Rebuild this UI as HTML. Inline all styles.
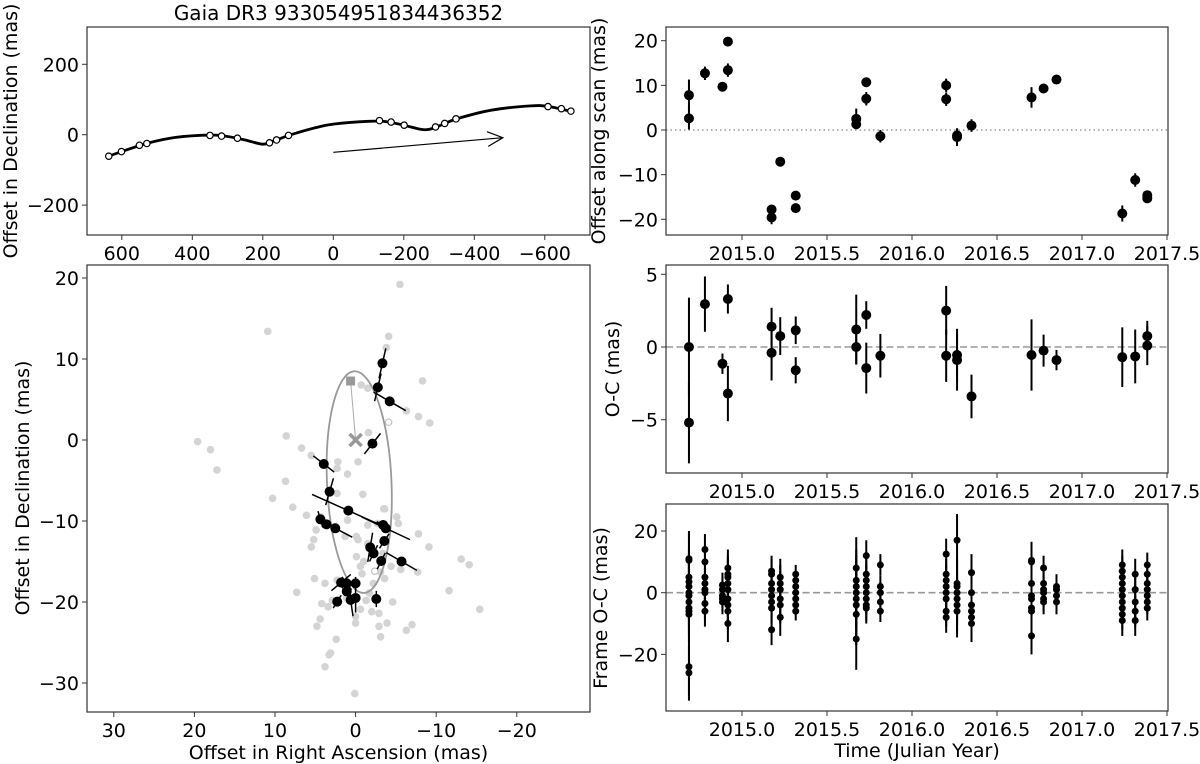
<!DOCTYPE html>
<html><head><meta charset="utf-8"><style>
html,body{margin:0;padding:0;background:#fff;}
svg{display:block;font-family:"DejaVu Sans","Liberation Sans",sans-serif;}
</style></head><body>
<svg id="fig" width="1200" height="764" viewBox="0 0 1200 764" xmlns="http://www.w3.org/2000/svg"></svg>
<script>
// ---------- DATA ----------
// Top-left sky path
const pathObsRA = [637,601,550,529,350,317,272,181,161,127,-131,-164,-201,-290,-316,-348,-609,-647,-674];
const pathObsDec = [-61,-48,-30,-25,-2,-4,-10,-23,-15,-2,40,36,27,22,32,45,80,74,67];
const pathCurveRA = [640,600,530,450,350,300,250,200,170,120,50,0,-100,-150,-200,-260,-300,-350,-450,-560,-610,-680];
const pathCurveDec = [-62,-48,-25,-8,-1,-5,-15,-27,-18,0,20,30,38,37,27,14,25,45,70,82,80,65];
const arrowStart = [0,-50];
const arrowEnd = [-481,-8.5];
const tlXTicks = [600,400,200,0,-200,-400,-600];
const tlYTicks = [200,0,-200];

// Bottom-left orbit panel
const greyRA = [-5.5,10.9,-4.1,-3.8,-8.3,-0.7,-1.5,-6.3,-7.8,-9.2,8.6,-1.6,19.6,18.0,17.2,6.7,5.5,-0.3,2.2,2.3,1.0,8.7,10.3,-0.9,7.8,6.1,4.3,-3.5,-5.1,4.9,5.2,5.5,-0.1,-0.3,-1.5,-7.8,-9.1,-13.1,-14.1,-7.7,5.1,3.8,7.3,-11.6,-15.4,-2.2,-4.6,2.9,4.2,3.4,4.4,4.8,0,0,-0.6,-2.0,-2.9,-3.9,-6.3,-7.0,2.4,3.1,3.3,3.8,0.1,-2.9,-3.1,-1.7,-0.1,-0.6,1.3,2.7,-1.5,-3.4,-5.3,-4.4,-5.6,1.1,-1.3,-3.1,-1.0,-2.0,-2.7,-3.6,2.3,1.0,-0.8,2.3,-3.6];
const greyDec = [19.2,13.4,12.8,11.4,7.3,6.8,6.4,3.6,2.9,2.1,0.5,0.9,-0.2,-1.2,-3.7,-1.0,-1.9,-2.7,-2.7,-3.5,-4.2,-5.1,-7.2,-6.7,-8.3,-9.3,-9.5,-8.5,-9.5,-11.1,-12.3,-13.2,-11.9,-12.3,-10.5,-11.6,-13.2,-14.7,-15.4,-16.3,-17.1,-17.7,-18.8,-18.6,-20.9,-17.7,-20.0,-19.8,-20.2,-20.6,-22.1,-23.0,-21.8,-22.6,-20.9,-21.2,-21.4,-22.6,-23.5,-22.8,-24.6,-26.3,-26.5,-28.0,-31.3,-23.0,-24.3,-18.9,-14.4,-15.6,-11.9,-10.7,-12.8,-14.0,-10.3,-15.6,-16.0,-19.5,-19.8,-16.3,-15.0,-13.6,-10.3,-8.5,-6.6,-9.9,-16.5,-17.3,-17.1];
const blackRA = [-3.33,-2.76,-4.23,-2.09,3.95,3.23,0.9,4.37,3.61,2.52,-3.42,-3.75,-3.56,-1.81,-2.23,-3.18,-5.7,1.8,1.1,0,1.1,0.62,0,2.28,-2.57];
const blackDec = [9.47,6.5,4.77,-0.45,-2.96,-6.38,-8.72,-9.79,-10.41,-10.9,-10.49,-10.9,-12.47,-13.25,-13.99,-14.94,-15.0,-17.6,-17.7,-17.7,-18.7,-19.75,-19.5,-19.96,-19.63];
const blackErrRA = [-0.42,-0.4,-2.0,-1.0,-1.29,-0.48,-4.5,0.3,0,-2.1,-0.8,-3.0,-0.6,-0.3,-0.5,-0.5,-1.9,-1.2,0.6,0,1.0,-0.3,0,0.5,0];
const blackErrDec = [1.85,1.7,-1.15,1.27,-0.99,1.65,-2.0,1.0,0,-1.1,-0.4,-1.4,0.9,1.8,1.0,1.0,-1.1,1.0,0.8,0.8,0.9,-2.0,-1.8,-0.8,1.0];
const ellipseCenter = [-0.45,-5.2];
const ellipseSemi = [4.0,13.7];
const ellipseTiltDeg = -2.5;
const periRA = 0.62, periDec = 7.28;
const openRA = [-4.1,-2.38], openDec = [2.2,-16.2];
const blXTicks = [30,20,10,0,-10,-20];
const blYTicks = [20,10,0,-10,-20,-30];

// Right panels
const scanT = [2014.688,2014.688,2014.782,2014.885,2014.917,2014.917,2015.174,2015.174,2015.225,2015.316,2015.316,2015.672,2015.672,2015.731,2015.731,2015.814,2016.201,2016.201,2016.265,2016.265,2016.350,2016.703,2016.774,2016.850,2017.237,2017.313,2017.384,2017.384];
const scanVal = [7.8,2.6,12.7,9.7,19.8,13.4,-17.8,-19.6,-7.1,-14.7,-17.5,2.5,1.3,10.7,7.0,-1.4,10.0,6.9,-1.2,-1.6,1.0,7.3,9.3,11.3,-18.7,-11.2,-14.6,-15.3];
const scanErr = [3.5,2.5,1.5,0.6,0.7,1.5,1.0,1.5,1.0,0.7,0.7,2.3,1.0,0.7,1.5,1.4,1.5,1.5,1.5,2.0,1.4,2.3,1.0,0.5,1.8,1.5,0.8,0.8];
const ocT = [2014.688,2014.688,2014.782,2014.885,2014.917,2014.917,2015.174,2015.174,2015.225,2015.316,2015.316,2015.672,2015.672,2015.731,2015.731,2015.814,2016.201,2016.201,2016.265,2016.265,2016.350,2016.703,2016.774,2016.850,2017.237,2017.313,2017.384,2017.384];
const ocVal = [0.0,-5.2,2.95,-1.15,3.3,-3.2,1.4,-0.4,0.75,1.15,-1.6,1.2,0.0,2.2,-1.45,-0.6,2.5,-0.6,-0.55,-0.9,-3.4,-0.55,-0.25,-0.9,-0.7,-0.65,0.75,0.1];
const ocErr = [3.4,2.8,1.9,0.7,1.0,1.9,1.3,1.9,1.3,0.95,0.9,2.4,1.2,0.95,1.75,1.5,1.7,1.8,1.8,2.1,1.5,2.45,1.1,0.7,2.05,1.85,1.05,1.35];
const frameT = [2014.688,2014.782,2014.885,2014.917,2015.174,2015.225,2015.316,2015.672,2015.731,2015.814,2016.201,2016.265,2016.350,2016.703,2016.774,2016.850,2017.237,2017.313,2017.384];
const frameVals = [
 [11,10.5,5,3.5,2,0,-1,-3,-5,-6,-7,-24,-26],
 [14,10,5,3,1,0,-3.5,-6],
 [2.5,1,-1,-2,-3],
 [8,6,5,3,1,-2,-4,-6,-10],
 [7,6,3,1,-1,-3,-5,-12],
 [5,3,1,-2,-4,-8],
 [6,4,2,0,-2,-4,-6],
 [8,4,2,0,-2,-4,-7,-15],
 [12,6,4,2,0,-2,-4,-5],
 [9,2,0,-3,-6],
 [12.5,6,4,2,0,-2,-6,-8],
 [17,3,2,0,-2,-4,-6],
 [6.5,0,-4,-6,-8,-10],
 [10.5,10,3,-1,-2,-5,-6,-14],
 [8,3,1,0,-2,-3],
 [2,1,-1,-3],
 [9,7,5,3,1,-1,-3,-5,-7,-9],
 [6,1,-3,-6,-9],
 [9,6,3,1,-1,-3,-5]
];
const frameErr = [9,5,4,6,5,6,3,10,5,3.5,5,8.5,6,6,4,4,5,5,4];
const timeTicks = [2015.0,2015.5,2016.0,2016.5,2017.0,2017.5];
const scanYTicks = [20,10,0,-10,-20];
const ocYTicks = [5,0,-5];
const frameYTicks = [20,0,-20];

// ---------- DRAWING ----------
const NS = "http://www.w3.org/2000/svg";
const svg = document.getElementById('fig');
function mk(tag, attrs, parent){
  const e = document.createElementNS(NS, tag);
  for (const k in attrs) e.setAttribute(k, attrs[k]);
  (parent||svg).appendChild(e);
  return e;
}
function lin(d0,d1,r0,r1){ return v => r0 + (v-d0)*(r1-r0)/(d1-d0); }
function fmtNum(v){ return (v<0?'\u2212':'') + Math.abs(v); }
const FS = 19;

function axesBox(b, name){
  const r = mk('rect',{x:b.x0,y:b.y0,width:b.x1-b.x0,height:b.y1-b.y0,fill:'none',stroke:'#333','stroke-width':1.2});
  
  
}
function xTicks(b, sx, ticks, fmt, name){
  ticks.forEach(t=>{
    const x = sx(t);
    const l = mk('line',{x1:x,x2:x,y1:b.y1,y2:b.y1+5,stroke:'#333','stroke-width':1});
    
    
    const tx = mk('text',{x:x,y:b.y1+25,'font-size':FS,'text-anchor':'middle',fill:'#000'});
    tx.textContent = fmt(t);
    
    
  });
}
function yTicks(b, sy, ticks, fmt, name){
  ticks.forEach(t=>{
    const y = sy(t);
    const l = mk('line',{x1:b.x0-5,x2:b.x0,y1:y,y2:y,stroke:'#333','stroke-width':1});
    
    
    const tx = mk('text',{x:b.x0-8,y:y+7,'font-size':FS,'text-anchor':'end',fill:'#000'});
    tx.textContent = fmt(t);
    
    
  });
}
function yLabel(x, y, txt, name){
  const t = mk('text',{x:x,y:y,'font-size':FS,'text-anchor':'middle',transform:`rotate(-90 ${x} ${y})`,fill:'#000'});
  t.textContent = txt;
  
  
}
function xLabel(x, y, txt, name){
  const t = mk('text',{x:x,y:y,'font-size':FS,'text-anchor':'middle',fill:'#000'});
  t.textContent = txt;
  
  
}

// ===== Top-left panel =====
const bTL = {x0:87,x1:590,y0:27,y1:235};
const sxTL = lin(0,200,333.3,262.8), syTL = lin(0,200,134.7,64.3);
{
  const P = pathCurveRA.map((r,i)=>[sxTL(r), syTL(pathCurveDec[i])]);
  let d = `M${P[0][0]},${P[0][1]}`;
  for (let i=0;i<P.length-1;i++){
    const p0=P[Math.max(0,i-1)], p1=P[i], p2=P[i+1], p3=P[Math.min(P.length-1,i+2)];
    const c1=[p1[0]+(p2[0]-p0[0])/6, p1[1]+(p2[1]-p0[1])/6];
    const c2=[p2[0]-(p3[0]-p1[0])/6, p2[1]-(p3[1]-p1[1])/6];
    d += ` C${c1[0]},${c1[1]} ${c2[0]},${c2[1]} ${p2[0]},${p2[1]}`;
  }
  const path = mk('path',{d:d,fill:'none',stroke:'#000','stroke-width':2.8});
  
  
  pathObsRA.forEach((r,i)=>{
    const c = mk('circle',{cx:sxTL(r),cy:syTL(pathObsDec[i]),r:3.2,fill:'#fff',stroke:'#000','stroke-width':1.2});
    
    
  });
  const ax0=sxTL(arrowStart[0]), ay0=syTL(arrowStart[1]), ax1=sxTL(arrowEnd[0]), ay1=syTL(arrowEnd[1]);
  const ang=Math.atan2(ay1-ay0,ax1-ax0);
  const al = mk('line',{x1:ax0,y1:ay0,x2:ax1,y2:ay1,stroke:'#000','stroke-width':1.2});
  
  
  const h=17, w=0.45;
  const ah = mk('polyline',{points:`${ax1-h*Math.cos(ang-w)},${ay1-h*Math.sin(ang-w)} ${ax1},${ay1} ${ax1-h*Math.cos(ang+w)},${ay1-h*Math.sin(ang+w)}`,fill:'none',stroke:'#000','stroke-width':1.2});
  
  
  axesBox(bTL,'sky-path');
  xTicks(bTL,sxTL,tlXTicks,fmtNum,'sky-path');
  yTicks(bTL,syTL,tlYTicks,fmtNum,'sky-path');
  yLabel(17,131,'Offset in Declination (mas)','sky-path-y-axis-title');
  const title = mk('text',{x:338.5,y:20,'font-size':20,'text-anchor':'middle',fill:'#000'});
  title.textContent = 'Gaia DR3 933054951834436352';
  
  
}

// ===== Bottom-left panel =====
const bBL = {x0:87,x1:590,y0:265,y1:712};
const sxBL = lin(0,10,355.6,275.0), syBL = lin(0,10,440,359);
{
  greyRA.forEach((r,i)=>{
    const c = mk('circle',{cx:sxBL(r),cy:syBL(greyDec[i]),r:3.8,fill:'#d4d4d4'});
    
    
  });
  const ecx=sxBL(ellipseCenter[0]), ecy=syBL(ellipseCenter[1]);
  const el = mk('ellipse',{cx:ecx,cy:ecy,rx:ellipseSemi[0]*8.06,ry:ellipseSemi[1]*8.1,fill:'none',stroke:'#999','stroke-width':1.8,transform:`rotate(${ellipseTiltDeg} ${ecx} ${ecy})`});
  
  
  const pl = mk('line',{x1:sxBL(periRA),y1:syBL(periDec),x2:sxBL(0),y2:syBL(0),stroke:'#aaa','stroke-width':1});
  
  
  const sq = mk('rect',{x:sxBL(periRA)-4.5,y:syBL(periDec)-4.5,width:9,height:9,fill:'#999'});
  
  
  const cx0=sxBL(0), cy0=syBL(0);
  const xm = mk('path',{d:`M${cx0-6},${cy0-6}L${cx0+6},${cy0+6}M${cx0-6},${cy0+6}L${cx0+6},${cy0-6}`,stroke:'#999','stroke-width':3.5});
  
  
  openRA.forEach((r,i)=>{
    const c = mk('circle',{cx:sxBL(r),cy:syBL(openDec[i]),r:3.2,fill:'#fff',stroke:'#bbb','stroke-width':1});
    
    
  });
  blackRA.forEach((r,i)=>{
    const x=sxBL(r), y=syBL(blackDec[i]);
    const dx=blackErrRA[i]*8.06*-1, dy=-blackErrDec[i]*8.1;
    const s = mk('line',{x1:x-dx,y1:y-dy,x2:x+dx,y2:y+dy,stroke:'#000','stroke-width':1.5});
    
    
    const c = mk('circle',{cx:x,cy:y,r:5,fill:'#000'});
    
    
  });
  axesBox(bBL,'orbit');
  xTicks(bBL,sxBL,blXTicks,fmtNum,'orbit');
  yTicks(bBL,syBL,blYTicks,fmtNum,'orbit');
  yLabel(29,488,'Offset in Declination (mas)','orbit-y-axis-title');
  xLabel(338.5,759,'Offset in Right Ascension (mas)','orbit-x-axis-title');
}

// ===== Right panels =====
const sxR = lin(2015,2017.5,742,1167);
function errPanel(b, sy, T, V, E, r, name){
  T.forEach((t,i)=>{
    const x=sxR(t);
    const l = mk('line',{x1:x,x2:x,y1:sy(V[i]+E[i]),y2:sy(V[i]-E[i]),stroke:'#000','stroke-width':2});
    
    
    const c = mk('circle',{cx:x,cy:sy(V[i]),r:r,fill:'#000'});
    
    
  });
}
function zeroLine(b, sy, dash, name){
  const l = mk('line',{x1:b.x0,x2:b.x1,y1:sy(0),y2:sy(0),stroke:'#999','stroke-width':1.6,'stroke-dasharray':dash});
  
  
}
const tfmt = t => t.toFixed(1);

const bTR = {x0:666,x1:1168,y0:27,y1:235};
const syTR = lin(0,20,130,40.7);
zeroLine(bTR, syTR, '1.5,3', 'scan');
errPanel(bTR, syTR, scanT, scanVal, scanErr, 5, 'scan');
axesBox(bTR,'scan');
xTicks(bTR,sxR,timeTicks,tfmt,'scan');
yTicks(bTR,syTR,scanYTicks,fmtNum,'scan');
yLabel(605,131,'Offset along scan (mas)','scan-y-axis-title');

const bMR = {x0:666,x1:1168,y0:265,y1:473};
const syMR = lin(0,5,347,274.3);
zeroLine(bMR, syMR, '7,3.5', 'oc');
errPanel(bMR, syMR, ocT, ocVal, ocErr, 5, 'oc');
axesBox(bMR,'oc');
xTicks(bMR,sxR,timeTicks,tfmt,'oc');
yTicks(bMR,syMR,ocYTicks,fmtNum,'oc');
yLabel(619,369,'O-C (mas)','oc-y-axis-title');

const bBR = {x0:666,x1:1168,y0:504,y1:711};
const syBR = lin(0,20,592.7,531);
zeroLine(bBR, syBR, '7,3.5', 'frame-oc');
frameT.forEach((t,i)=>{
  const vs = frameVals[i];
  const T = vs.map(()=>t), E = vs.map(()=>frameErr[i]);
  errPanel(bBR, syBR, T, vs, E, 3.5, 'frame-oc');
});
axesBox(bBR,'frame-oc');
xTicks(bBR,sxR,timeTicks,tfmt,'frame-oc');
yTicks(bBR,syBR,frameYTicks,fmtNum,'frame-oc');
yLabel(607,608,'Frame O-C (mas)','frame-oc-y-axis-title');
xLabel(917,757,'Time (Julian Year)','time-x-axis-title');
</script>
</body></html>
